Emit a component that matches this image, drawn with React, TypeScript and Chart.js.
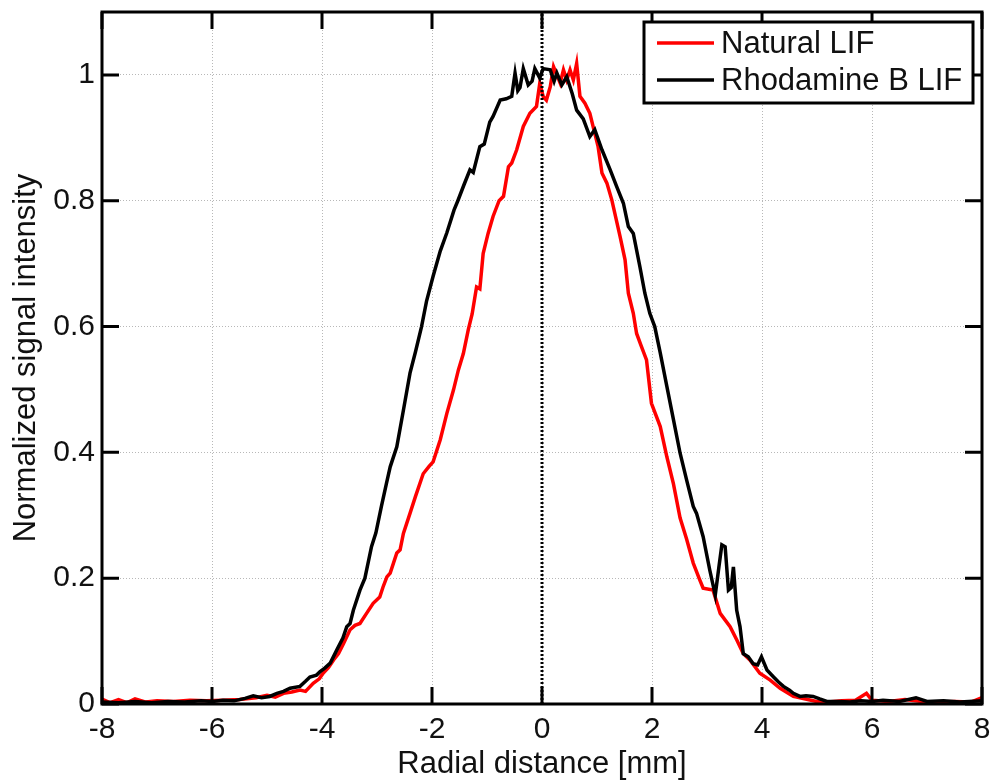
import React, { useEffect, useRef } from "react";
import { Chart, registerables } from "chart.js";

Chart.register(...registerables);

// ---- data ----
const naturalX = [
  -8.0, -7.85, -7.7, -7.55, -7.4, -7.2, -7.0, -6.7, -6.4, -6.1, -5.8, -5.5, -5.2, -5.0, -4.85, -4.7, -4.55, -4.4, -4.3,
  -4.16, -4.05, -3.98, -3.88, -3.79, -3.7, -3.61, -3.49, -3.4, -3.31, -3.19, -3.07, -2.95, -2.89, -2.82, -2.76, -2.64,
  -2.58, -2.52, -2.4, -2.3, -2.16, -2.05, -1.98, -1.85, -1.73, -1.61, -1.52, -1.43, -1.34, -1.27, -1.19, -1.13, -1.07,
  -0.98, -0.89, -0.78, -0.7, -0.61, -0.55, -0.46, -0.34, -0.22, -0.1, -0.04, 0.02, 0.08, 0.15, 0.21, 0.27, 0.33, 0.39,
  0.45, 0.51, 0.57, 0.63, 0.69, 0.78, 0.87, 0.96, 1.02, 1.09, 1.18, 1.27, 1.42, 1.51, 1.57, 1.66, 1.72, 1.8, 1.9, 1.99,
  2.15, 2.27, 2.39, 2.51, 2.63, 2.75, 2.87, 2.93, 3.11, 3.24, 3.42, 3.54, 3.66, 3.78, 3.96, 4.15, 4.33, 4.57, 4.69,
  4.99, 5.2, 5.45, 5.7, 5.9, 6.0, 6.3, 6.6, 6.9, 7.2, 7.5, 7.8, 8.0,
];
const naturalY = [
  0.008, 0.002, 0.007, 0.002, 0.008, 0.003, 0.005, 0.004, 0.006, 0.005, 0.006, 0.007, 0.01, 0.014, 0.011, 0.017, 0.019,
  0.022, 0.02, 0.033, 0.04, 0.049, 0.058, 0.07, 0.08, 0.096, 0.118, 0.125, 0.128, 0.144, 0.16, 0.17, 0.186, 0.202,
  0.208, 0.24, 0.245, 0.271, 0.303, 0.33, 0.366, 0.378, 0.385, 0.42, 0.462, 0.499, 0.531, 0.557, 0.595, 0.62, 0.663,
  0.66, 0.716, 0.748, 0.775, 0.8, 0.807, 0.854, 0.86, 0.881, 0.918, 0.939, 0.95, 0.987, 0.966, 0.96, 0.981, 1.013, 1.0,
  0.987, 1.008, 0.992, 1.008, 0.992, 1.018, 0.966, 0.955, 0.939, 0.907, 0.886, 0.844, 0.828, 0.801, 0.743, 0.706,
  0.653, 0.621, 0.589, 0.57, 0.547, 0.478, 0.441, 0.393, 0.35, 0.296, 0.262, 0.224, 0.197, 0.184, 0.181, 0.144, 0.123,
  0.102, 0.08, 0.07, 0.049, 0.038, 0.025, 0.012, 0.01, 0.004, 0.003, 0.005, 0.006, 0.017, 0.006, 0.004, 0.007, 0.004,
  0.003, 0.004, 0.003, 0.01,
];

const rhodamineX = [
  -8.0, -7.7, -7.4, -7.1, -6.8, -6.5, -6.2, -6.0, -5.8, -5.6, -5.4, -5.25, -5.1, -4.95, -4.82, -4.7, -4.58, -4.4, -4.3,
  -4.22, -4.1, -4.04, -3.95, -3.85, -3.73, -3.62, -3.55, -3.49, -3.43, -3.31, -3.22, -3.1, -3.02, -2.92, -2.83, -2.76,
  -2.64, -2.52, -2.4, -2.3, -2.19, -2.1, -1.98, -1.85, -1.73, -1.6, -1.53, -1.42, -1.31, -1.25, -1.13, -1.05, -0.95,
  -0.89, -0.76, -0.65, -0.55, -0.49, -0.44, -0.4, -0.34, -0.25, -0.18, -0.13, -0.04, 0.02, 0.15, 0.22, 0.27, 0.36, 0.45,
  0.55, 0.63, 0.75, 0.87, 0.96, 1.09, 1.24, 1.36, 1.48, 1.57, 1.66, 1.78, 1.87, 1.96, 2.05, 2.15, 2.27, 2.39, 2.51, 2.63,
  2.75, 2.81, 2.93, 3.05, 3.15, 3.22, 3.27, 3.33, 3.39, 3.44, 3.48, 3.54, 3.6, 3.66, 3.75, 3.84, 3.92, 3.99, 4.09, 4.21,
  4.3, 4.39, 4.5, 4.57, 4.69, 4.8, 4.93, 5.05, 5.18, 5.4, 5.6, 5.8, 6.0, 6.2, 6.5, 6.8, 7.0, 7.3, 7.6, 8.0,
];
const rhodamineY = [
  0.003, 0.002, 0.004, 0.002, 0.004, 0.003, 0.005, 0.004, 0.006, 0.005, 0.009, 0.013, 0.01, 0.012, 0.017, 0.02, 0.025,
  0.028, 0.036, 0.043, 0.046, 0.051, 0.057, 0.065, 0.086, 0.105, 0.123, 0.128, 0.149, 0.181, 0.2, 0.25, 0.272, 0.314,
  0.35, 0.377, 0.409, 0.467, 0.526, 0.56, 0.6, 0.64, 0.68, 0.72, 0.749, 0.785, 0.8, 0.825, 0.849, 0.845, 0.886, 0.89,
  0.925, 0.934, 0.96, 0.962, 0.966, 1.003, 0.975, 0.98, 1.01, 0.984, 0.99, 1.01, 0.995, 1.01, 1.008, 0.99, 1.003, 0.984,
  0.997, 0.97, 0.944, 0.93, 0.902, 0.913, 0.881, 0.849, 0.822, 0.796, 0.759, 0.748, 0.695, 0.653, 0.621, 0.6, 0.558,
  0.505, 0.452, 0.399, 0.356, 0.314, 0.303, 0.266, 0.213, 0.173, 0.22, 0.253, 0.25, 0.181, 0.185, 0.218, 0.149, 0.123,
  0.08, 0.075, 0.064, 0.062, 0.075, 0.054, 0.043, 0.035, 0.028, 0.022, 0.017, 0.012, 0.013, 0.012, 0.008, 0.004, 0.004,
  0.003, 0.005, 0.004, 0.006, 0.004, 0.01, 0.004, 0.005, 0.003, 0.005,
];

const centerX = [0, 0];
const centerY = [0, 1.1];

const xTicks = [-8, -6, -4, -2, 0, 2, 4, 6, 8];
const yTicks = [0, 0.2, 0.4, 0.6, 0.8, 1];
const legendLabels = ["Natural LIF", "Rhodamine B LIF"];
const seriesColors = ["#ff0000", "#000000"];

const FONT = "'Liberation Sans', Arial, Helvetica, sans-serif";

const zip = (xs: number[], ys: number[]) => xs.map((x, i) => ({ x, y: ys[i] }));

const framePlugin = {
  id: "matlabFrame",
  afterDatasetsDraw(chart: any) {
    const { ctx, chartArea } = chart;
    const { left, right, top, bottom } = chartArea;
    const xs = chart.scales.x;
    const ys = chart.scales.y;
    const tl = 17;
    ctx.save();
    ctx.strokeStyle = "#000";
    ctx.lineWidth = 3;
    ctx.setLineDash([]);
    ctx.beginPath();
    xTicks.forEach((v) => {
      const p = xs.getPixelForValue(v);
      ctx.moveTo(p, bottom);
      ctx.lineTo(p, bottom - tl);
      ctx.moveTo(p, top);
      ctx.lineTo(p, top + tl);
    });
    yTicks.forEach((v) => {
      const p = ys.getPixelForValue(v);
      ctx.moveTo(left, p);
      ctx.lineTo(left + tl, p);
      ctx.moveTo(right, p);
      ctx.lineTo(right - tl, p);
    });
    ctx.stroke();
    ctx.strokeRect(left, top, right - left, bottom - top);

    // legend box
    const w = 329;
    const h = 81;
    const bx = right - 9 - w;
    const by = top + 10;
    ctx.fillStyle = "#fff";
    ctx.fillRect(bx, by, w, h);
    ctx.strokeRect(bx, by, w, h);
    const rows = [21, 58];
    ctx.font = `31px ${FONT}`;
    ctx.textBaseline = "middle";
    ctx.textAlign = "left";
    legendLabels.forEach((lab, i) => {
      const yy = by + rows[i];
      ctx.strokeStyle = seriesColors[i];
      ctx.lineWidth = 3.5;
      ctx.beginPath();
      ctx.moveTo(bx + 13, yy);
      ctx.lineTo(bx + 70, yy);
      ctx.stroke();
      ctx.fillStyle = "#111";
      ctx.fillText(lab, bx + 77, yy + 1);
    });
    ctx.restore();
  },
};

export default function App() {
  const ref = useRef<HTMLCanvasElement | null>(null);
  useEffect(() => {
    if (!ref.current) return;
    const chart = new Chart(ref.current, {
      type: "line",
      data: {
        datasets: [
          {
            label: "center",
            data: zip(centerX, centerY),
            borderColor: "#000",
            borderWidth: 3,
            borderDash: [2, 2],
            pointRadius: 0,
          },
          {
            label: legendLabels[1],
            data: zip(rhodamineX, rhodamineY),
            borderColor: seriesColors[1],
            borderWidth: 3.5,
            pointRadius: 0,
            tension: 0,
          },
          {
            label: legendLabels[0],
            data: zip(naturalX, naturalY),
            borderColor: seriesColors[0],
            borderWidth: 3.5,
            pointRadius: 0,
            tension: 0,
          },
        ],
      },
      plugins: [framePlugin],
      options: {
        animation: false,
        responsive: false,
        devicePixelRatio: 1,
        layout: { padding: { top: 12, right: 13, left: 0, bottom: 0 } },
        plugins: { legend: { display: false }, tooltip: { enabled: false } },
        scales: {
          x: {
            type: "linear",
            min: -8,
            max: 8,
            afterBuildTicks: (s: any) => {
              s.ticks = xTicks.map((v) => ({ value: v }));
            },
            afterFit: (s: any) => {
              s.height = 79;
              s.paddingLeft = 0;
              s.paddingRight = 0;
              s.paddingTop = 0;
              s.paddingBottom = 0;
            },
            grid: { color: "#b8b8b8", lineWidth: 1, drawTicks: false },
            border: { display: false, dash: [1, 2] },
            ticks: {
              color: "#111",
              font: { family: FONT, size: 30 },
              padding: 8,
              maxRotation: 0,
              autoSkip: false,
              callback: (v: any) => String(v),
            },
            title: {
              display: true,
              text: "Radial distance [mm]",
              color: "#111",
              font: { family: FONT, size: 31 },
              padding: { top: 0, bottom: 0 },
            },
          },
          y: {
            type: "linear",
            min: 0,
            max: 1.1,
            afterBuildTicks: (s: any) => {
              s.ticks = yTicks.map((v) => ({ value: v }));
            },
            afterFit: (s: any) => {
              s.width = 102;
              s.paddingLeft = 0;
              s.paddingRight = 0;
              s.paddingTop = 0;
              s.paddingBottom = 0;
            },
            grid: { color: "#b8b8b8", lineWidth: 1, drawTicks: false },
            border: { display: false, dash: [1, 2] },
            ticks: {
              color: "#111",
              font: { family: FONT, size: 30 },
              padding: 7,
              autoSkip: false,
              callback: (v: any) => String(Number(Number(v).toFixed(1))),
            },
            title: {
              display: true,
              text: "Normalized signal intensity",
              color: "#111",
              font: { family: FONT, size: 31 },
              padding: { top: 8, bottom: 0 },
            },
          },
        },
      },
    });
    return () => chart.destroy();
  }, []);
  return (
    <div style={{ position: "fixed", left: 0, top: 0, width: 995, height: 783, background: "#fff" }}>
      <canvas ref={ref} width={995} height={783} />
    </div>
  );
}
